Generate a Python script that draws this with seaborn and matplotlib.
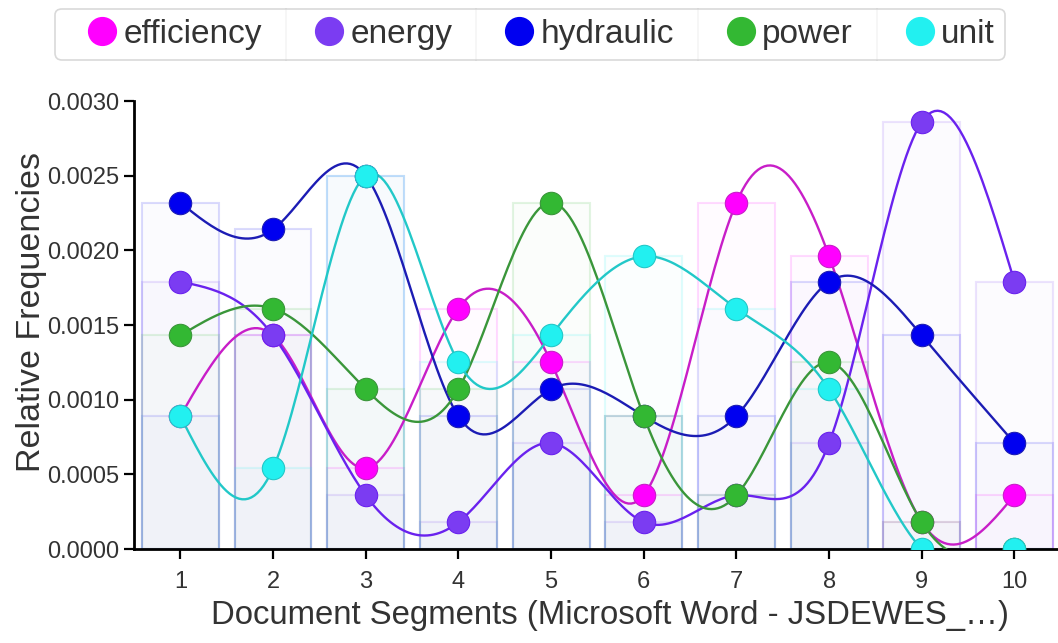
import numpy as np
import pandas as pd
import matplotlib
matplotlib.use("Agg")
import matplotlib.pyplot as plt
from matplotlib.lines import Line2D
import seaborn as sns

# data: relative frequencies per document segment
segments = [1, 2, 3, 4, 5, 6, 7, 8, 9, 10]
efficiency = [0.00089, 0.00143, 0.00054, 0.00161, 0.00125, 0.00036, 0.00232, 0.00196, 0.00018, 0.00036]
energy = [0.00179, 0.00143, 0.00036, 0.00018, 0.00071, 0.00018, 0.00036, 0.00071, 0.00286, 0.00179]
hydraulic = [0.00232, 0.00214, 0.00250, 0.00089, 0.00107, 0.00089, 0.00089, 0.00179, 0.00143, 0.00071]
power = [0.00143, 0.00161, 0.00107, 0.00107, 0.00232, 0.00089, 0.00036, 0.00125, 0.00018, 0.0]
unit = [0.00089, 0.00054, 0.00250, 0.00125, 0.00143, 0.00196, 0.00161, 0.00107, 0.0, 0.0]

terms = ["efficiency", "energy", "hydraulic", "power", "unit"]
series = [efficiency, energy, hydraulic, power, unit]
dot_colors = ["#ff00ff", "#7b3cf2", "#0000f0", "#33b833", "#22f0f0"]
line_colors = ["#c81ec8", "#6a22ee", "#1c1cb4", "#3a963a", "#22c8c8"]


def natural_spline(x, y, n=30):
    # natural cubic spline through evenly spaced points
    x = np.asarray(x, float)
    y = np.asarray(y, float)
    k = len(y)
    A = np.zeros((k, k))
    b = np.zeros(k)
    A[0, 0] = A[-1, -1] = 1
    for i in range(1, k - 1):
        A[i, i - 1], A[i, i], A[i, i + 1] = 1, 4, 1
        b[i] = 6 * (y[i + 1] - 2 * y[i] + y[i - 1])
    M = np.linalg.solve(A, b)
    xs, ys = [], []
    for i in range(k - 1):
        t = np.linspace(0, 1, n, endpoint=(i == k - 2))
        a, c = 1 - t, t
        yy = a * y[i] + c * y[i + 1] + ((a ** 3 - a) * M[i] + (c ** 3 - c) * M[i + 1]) / 6
        xs.append(x[i] + t)
        ys.append(yy)
    return np.concatenate(xs), np.concatenate(ys)


sns.set_style("white")
plt.rcParams["font.family"] = ["Liberation Sans", "DejaVu Sans"]
plt.rcParams["text.color"] = "#333333"

fig = plt.figure(figsize=(10.58, 6.43), dpi=100)
ax = fig.add_axes([134 / 1058, 1 - 549 / 643, 1 - 134 / 1058, (549 - 101) / 643])

# faint bars behind the lines
for vals, col in zip(series, dot_colors):
    ax.bar(segments, vals, width=0.83, color=matplotlib.colors.to_rgba(col, 0.015),
           edgecolor=matplotlib.colors.to_rgba(col, 0.14), linewidth=1.5, zorder=1)

for name, vals, dcol, lcol in zip(terms, series, dot_colors, line_colors):
    xs, ys = natural_spline(segments, vals)
    sns.lineplot(x=xs, y=ys, color=lcol, linewidth=1.7, ax=ax, zorder=3, sort=False)
    sns.scatterplot(x=segments, y=vals, color=dcol, s=260, edgecolor=lcol, linewidth=0.8,
                    ax=ax, zorder=4, legend=False)

ax.set_xlim(0.5, 10.47)
ax.set_ylim(0, 0.003)
ax.set_xticks(segments)
ax.set_yticks(np.arange(0, 0.00301, 0.0005))
ax.set_yticklabels([f"{v:.4f}" for v in np.arange(0, 0.00301, 0.0005)])
ax.tick_params(axis="both", labelsize=17, labelcolor="#333333", color="black", length=7,
               width=1.6, direction="out", left=True, bottom=True)
ax.tick_params(axis="x", pad=9)
for side in ["top", "right"]:
    ax.spines[side].set_visible(False)
for side in ["left", "bottom"]:
    ax.spines[side].set_color("black")
    ax.spines[side].set_linewidth(2)

ax.set_xlabel("Document Segments (Microsoft Word - JSDEWES_\u2026)", fontsize=23.7, color="#333333")
ax.set_ylabel("Relative Frequencies", fontsize=24.5, color="#333333")
ax.xaxis.set_label_coords(0.515, -0.113)
ax.yaxis.set_label_coords(-0.094, 0.529)

handles = [Line2D([], [], marker="o", linestyle="none", markersize=20, markerfacecolor=c,
                  markeredgecolor=c) for c in dot_colors]
leg = fig.legend(handles, terms, loc="center", bbox_to_anchor=(0.501, 0.947), ncol=5,
                 fontsize=24, frameon=True, fancybox=True, edgecolor="#d0d0d0",
                 handlelength=2.2, handletextpad=-0.45, columnspacing=0.9, borderpad=0.3)
leg.get_frame().set_linewidth(1.2)

# vertical dividers between legend entries
fig.canvas.draw()
r = fig.canvas.get_renderer()
box = leg.get_window_extent(r)
texts = leg.get_texts()
hands = leg.legend_handles
for i in range(len(texts) - 1):
    x0 = texts[i].get_window_extent(r).x1
    hb = hands[i + 1].get_window_extent(r)
    x1 = (hb.x0 + hb.x1) / 2
    xm = (x0 + 0.36 * (x1 - x0)) / fig.bbox.width
    fig.add_artist(Line2D([xm, xm], [box.y0 / fig.bbox.height, box.y1 / fig.bbox.height],
                          color="#d0d0d0", linewidth=1.2))

fig.savefig("out.png", dpi=100)
